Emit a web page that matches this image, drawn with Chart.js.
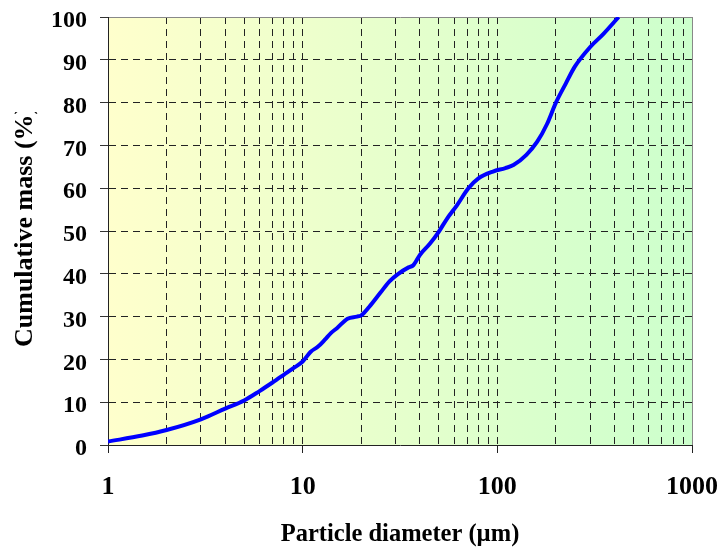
<!DOCTYPE html>
<html>
<head>
<meta charset="utf-8">
<script src="https://cdn.jsdelivr.net/npm/chart.js@4"></script>
<style>
  html, body { margin: 0; padding: 0; background: #fff; }
  #wrap { width: 723px; height: 551px; }
</style>
</head>
<body>
<div id="wrap"><canvas id="psdChart"></canvas></div>
<script>
// particle size distribution
const diameters = [1, 1.5, 2, 3, 4, 5, 6, 7, 8, 9, 10, 11, 12, 13, 14, 15, 17, 19, 20, 22, 25, 28, 31, 35, 37, 40, 45, 50, 55, 62, 71, 80, 95, 110, 121, 141, 160, 180, 200, 225, 250, 300, 350, 420];
const cumulativeMass = [0.8, 2.2, 3.5, 6, 8.5, 10.4, 12.6, 14.6, 16.4, 18, 19.5, 21.8, 23, 24.6, 26.2, 27.3, 29.5, 30, 30.3, 32.3, 35.5, 38.3, 40, 41.5, 42, 44.4, 47, 49.8, 52.8, 56, 60, 62.3, 63.9, 64.7, 65.4, 67.8, 70.8, 75, 80, 84.5, 88.4, 93, 96, 100];
const xMajorTicks = [1, 10, 100, 1000];
const xGridValues = [];
for (let k = 0; k < 3; k++) {
    for (let m = 1; m <= 9; m++) xGridValues.push(m * Math.pow(10, k));
}
xGridValues.push(1000);

const fontFamily = "'Liberation Serif', 'Times New Roman', serif";

const bgPlugin = {
    id: 'bg',
    beforeDraw(chart) {
        const { ctx, chartArea: a } = chart;
        const g = ctx.createLinearGradient(a.left, 0, a.right, 0);
        g.addColorStop(0, '#ffffcc');
        g.addColorStop(1, '#ccffcc');
        ctx.save();
        ctx.fillStyle = g;
        ctx.fillRect(a.left, a.top, a.right - a.left, a.bottom - a.top);
        ctx.restore();
    },
    afterDraw(chart) {
        const { ctx } = chart;
        ctx.save();
        ctx.fillStyle = '#000';
        ctx.font = 'bold 24.5px ' + fontFamily;
        ctx.textAlign = 'center';
        ctx.textBaseline = 'alphabetic';
        ctx.fillText('Particle diameter (\u00b5m)', 400, 541);
        // the original axis title is cut off near its top end
        ctx.beginPath();
        ctx.rect(0, 112, 60, 300);
        ctx.clip();
        ctx.font = 'bold 26px ' + fontFamily;
        ctx.translate(32, 347);
        ctx.rotate(-Math.PI / 2);
        ctx.textAlign = 'left';
        ctx.fillText('Cumulative mass (%)', 0, 0);
        ctx.restore();
    }
};

const ctx = document.getElementById('psdChart').getContext('2d');
const psdChart = new Chart(ctx, {
    type: 'line',
    data: {
        datasets: [{
            data: diameters.map((d, i) => ({ x: d, y: cumulativeMass[i] })),
            borderColor: '#0000ff',
            borderWidth: 4,
            pointRadius: 0,
            cubicInterpolationMode: 'monotone',
            fill: false
        }]
    },
    options: {
        responsive: true,
        maintainAspectRatio: false,
        animation: false,
        layout: { padding: { top: 17, right: 31, left: 0, bottom: 0 } },
        plugins: {
            legend: { display: false },
            tooltip: { enabled: false }
        },
        scales: {
            x: {
                type: 'logarithmic',
                min: 1,
                max: 1000,
                afterBuildTicks: (scale) => {
                    scale.ticks = xGridValues.map(v => ({ value: v }));
                },
                afterFit: (scale) => {
                    scale.height = 106;
                    scale.paddingLeft = 0;
                    scale.paddingRight = 0;
                },
                grid: {
                    color: (c) => {
                        const v = c.tick && c.tick.value;
                        if (v === 1) return 'rgba(0,0,0,0)';
                        if (v === 1000) return '#888';
                        return '#222';
                    },
                    lineWidth: 1,
                    tickLength: 8,
                    tickColor: (c) => (c.tick && xMajorTicks.includes(c.tick.value)) ? '#222' : 'rgba(0,0,0,0)'
                },
                border: {
                    color: '#222',
                    width: 1,
                    dash: (c) => (c.tick && c.tick.value === 1000) ? [] : [7, 5]
                },
                ticks: {
                    autoSkip: false,
                    maxRotation: 0,
                    padding: 19,
                    color: '#000',
                    font: { family: fontFamily, size: 26, weight: 'bold' },
                    callback: (val) => xMajorTicks.includes(val) ? String(val) : ''
                }
            },
            y: {
                min: 0,
                max: 100,
                afterFit: (scale) => {
                    scale.width = 108;
                    scale.paddingTop = 0;
                    scale.paddingBottom = 0;
                },
                grid: {
                    color: (c) => {
                        const v = c.tick && c.tick.value;
                        if (v === 0) return 'rgba(0,0,0,0)';
                        if (v === 100) return '#888';
                        return '#222';
                    },
                    lineWidth: 1,
                    tickLength: 8,
                    tickColor: '#333'
                },
                border: {
                    color: '#222',
                    width: 1,
                    dash: (c) => (c.tick && c.tick.value === 100) ? [] : [7, 5]
                },
                ticks: {
                    stepSize: 10,
                    padding: 13,
                    labelOffset: 4,
                    color: '#000',
                    font: { family: fontFamily, size: 24, weight: 'bold' }
                }
            }
        }
    },
    plugins: [bgPlugin]
});
</script>
</body>
</html>
